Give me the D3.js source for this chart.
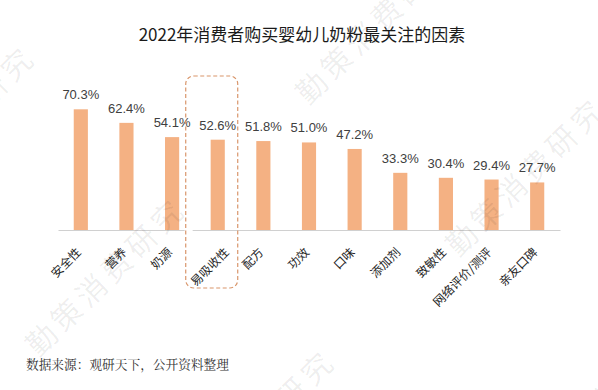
<!DOCTYPE html>
<html lang="zh">
<head>
<meta charset="utf-8">
<title>婴幼儿奶粉关注因素</title>
<script src="https://cdn.jsdelivr.net/npm/d3@7"></script>
<style>
  body { margin: 0; background: #fff; }
  text { font-family: "Noto Sans CJK SC", "Liberation Sans", sans-serif; }
</style>
</head>
<body>
<script>
// data
var categories = ["安全性", "营养", "奶源", "易吸收性", "配方", "功效", "口味", "添加剂", "致敏性", "网络评价/测评", "亲友口碑"];
var values = [70.3, 62.4, 54.1, 52.6, 51.8, 51.0, 47.2, 33.3, 30.4, 29.4, 27.7];
var highlighted = "易吸收性";
var title = "2022年消费者购买婴幼儿奶粉最关注的因素";
var source = "数据来源：观研天下，公开资料整理";
var watermark = "勤策消费研究";

var w = 598, h = 390;
var left = 58, right = 560, base = 230;

var svg = d3.select("body").append("svg")
  .attr("width", w)
  .attr("height", h);

var xScale = d3.scaleBand()
  .domain(categories)
  .range([left, right])
  .paddingInner(0.69)
  .paddingOuter(0.345);

var yScale = d3.scaleLinear()
  .domain([0, 70.3])
  .range([base, 109.3]);

// title
svg.append("text")
  .attr("x", 302)
  .attr("y", 41)
  .attr("text-anchor", "middle")
  .attr("font-size", 17)
  .attr("fill", "#1a1a1a")
  .text(title);

// bars
svg.selectAll("rect.bar")
  .data(values)
  .enter()
  .append("rect")
  .attr("class", "bar")
  .attr("x", function(d, i) { return xScale(categories[i]); })
  .attr("width", xScale.bandwidth())
  .attr("y", function(d) { return yScale(d); })
  .attr("height", function(d) { return base - yScale(d); })
  .attr("fill", "#F4B183");

// value labels
svg.selectAll("text.val")
  .data(values)
  .enter()
  .append("text")
  .attr("class", "val")
  .attr("x", function(d, i) { return xScale(categories[i]) + xScale.bandwidth() / 2; })
  .attr("y", function(d) { return yScale(d) - 10; })
  .attr("text-anchor", "middle")
  .attr("font-size", 13)
  .attr("fill", "#404040")
  .style("font-family", "'Liberation Sans', Arial, sans-serif")
  .text(function(d) { return d.toFixed(1) + "%"; });

// x axis (no ticks), with a small break left of the highlighted box
var xAxis = d3.axisBottom(xScale).tickSize(0).tickFormat("");
var axisG = svg.append("g")
  .attr("transform", "translate(0," + base + ")")
  .call(xAxis);
axisG.select(".domain").attr("stroke", "#d0d0d0").attr("stroke-width", 1.2);
svg.append("rect")
  .attr("x", xScale(highlighted) - 26)
  .attr("y", base - 2)
  .attr("width", 8)
  .attr("height", 4)
  .attr("fill", "#fff");

// category labels, rotated
svg.selectAll("text.cat")
  .data(categories)
  .enter()
  .append("text")
  .attr("class", "cat")
  .attr("transform", function(d) {
    var cx = xScale(d) + xScale.bandwidth() / 2 + (d === highlighted ? 12 : 1);
    return "translate(" + cx + "," + 253 + ") rotate(-45)";
  })
  .attr("text-anchor", "end")
  .attr("font-size", 12)
  .attr("fill", "#262626")
  .text(function(d) { return d; });

// dashed highlight box
var hx = xScale(highlighted) + xScale.bandwidth() / 2;
svg.append("rect")
  .attr("x", hx - 32)
  .attr("y", 76)
  .attr("width", 52)
  .attr("height", 212)
  .attr("rx", 8)
  .attr("fill", "none")
  .attr("stroke", "#D9966B")
  .attr("stroke-width", 1.2)
  .attr("stroke-dasharray", "4,2.5");

// source
svg.append("text")
  .attr("x", 26)
  .attr("y", 369)
  .attr("font-size", 12.7)
  .attr("fill", "#333")
  .style("font-family", "'Noto Serif CJK SC', 'Noto Sans CJK SC', serif")
  .text(source);

// watermark grid
var wm = svg.append("g").attr("fill", "#000").attr("fill-opacity", 0.07);
for (var i = -2; i <= 2; i++) {
  for (var j = -3; j <= 3; j++) {
    var px = 42 + i * 420 + j * 150;
    var py = 340 - i * 100 + j * 152;
    if (px < -300 || px > 700 || py < -100 || py > 600) continue;
    wm.append("text")
      .attr("transform", "translate(" + px + "," + py + ") rotate(-44.5)")
      .attr("x", -15)
      .attr("dy", "0.35em")
      .attr("font-size", 30)
      .attr("letter-spacing", 5)
      .text(watermark);
  }
}
</script>
</body>
</html>
